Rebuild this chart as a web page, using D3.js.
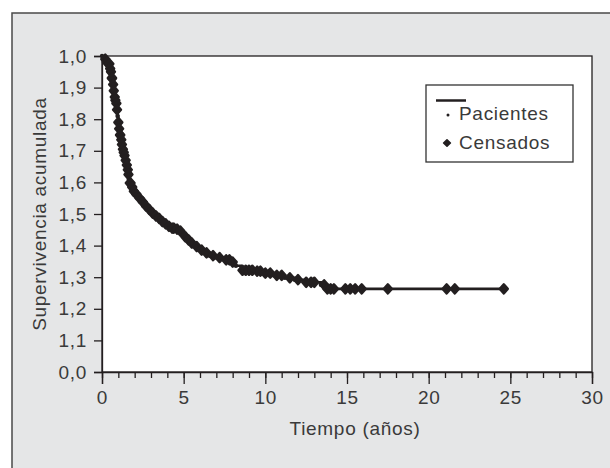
<!DOCTYPE html>
<html><head><meta charset="utf-8">
<script src="https://cdn.jsdelivr.net/npm/d3@7"></script>
<style>
html,body{margin:0;padding:0;background:#fff;}
svg{display:block;}
text{font-family:"Liberation Sans",Arial,sans-serif;font-weight:400;fill:#3a3a3a;letter-spacing:0.7px;}
</style></head>
<body>
<svg id="c" width="610" height="468"></svg>
<script>
// ---- data ----
const eventTimes = [0,0.1,0.2,0.3,0.4,0.5,0.55,0.6,0.65,0.7,0.75,0.8,0.85,0.9,0.95,1.0,1.05,1.1,1.15,1.2,1.25,1.3,1.35,1.4,1.5,1.55,1.6,1.65,1.7,1.8,1.9,2.0,2.2,2.4,2.6,2.8,3.0,3.2,3.4,3.6,3.8,4.0,4.2,4.5,4.7,4.9,5.0,5.2,5.4,5.7,6.0,6.3,6.6,7.0,7.5,7.9,8.2,8.5,9.3,9.8,10.5,11.2,11.8,12.4,13.4,13.7,24.7];
const survival  = [1.0,0.995,0.99,0.98,0.975,0.96,0.95,0.93,0.91,0.89,0.87,0.86,0.85,0.83,0.81,0.79,0.77,0.75,0.735,0.72,0.705,0.695,0.685,0.67,0.655,0.64,0.625,0.61,0.598,0.585,0.572,0.563,0.55,0.538,0.525,0.514,0.503,0.494,0.486,0.476,0.469,0.461,0.455,0.452,0.446,0.436,0.428,0.418,0.408,0.397,0.386,0.377,0.368,0.362,0.355,0.348,0.336,0.322,0.319,0.313,0.306,0.298,0.292,0.284,0.276,0.263,0.263];
const censoredTimes = [0.2,0.3,0.45,0.5,0.55,0.6,0.62,0.68,0.72,0.78,0.82,0.88,0.92,1.0,1.05,1.1,1.12,1.18,1.22,1.28,1.33,1.38,1.45,1.52,1.58,1.62,1.7,1.75,1.85,1.95,2.1,2.3,2.5,2.7,2.9,3.1,3.3,3.5,3.7,3.9,4.1,4.3,4.4,4.6,4.8,5.1,5.3,5.5,5.8,6.1,6.4,6.8,7.2,7.6,7.8,8.0,8.6,8.8,9.0,9.2,9.5,9.7,10.0,10.3,10.7,11.0,11.5,12.0,12.5,12.8,13.0,13.6,13.8,14.0,14.2,14.9,15.2,15.5,15.9,17.5,21.1,21.6,24.6];
const yTickValues = [0,0.1,0.2,0.3,0.4,0.5,0.6,0.7,0.8,0.9,1.0];
const yTickLabels = ["0,0","1,1","1,2","1,3","1,4","1,5","1,6","1,7","1,8","1,9","1,0"];
const xMajorTicks = [0,5,10,15,20,25,30];
const xMinorTicks = d3.range(0,31,1);
const legendItems = ["Pacientes","Censados"];
const xTitle = "Tiempo (años)";
const yTitle = "Supervivencia acumulada";

// ---- layout ----
const svg = d3.select("#c");
const P = {l:102, r:592, t:56, b:372};
const ink = "#231f20";

svg.append("rect").attr("x",12).attr("y",13).attr("width",640).attr("height",500)
  .attr("fill","#e5e6e7").attr("stroke","#4a4a4a").attr("stroke-width",1.5);

const x = d3.scaleLinear().domain([0,30]).range([P.l,P.r]);
const y = d3.scaleLinear().domain([0,1]).range([P.b,P.t]);

svg.append("rect").attr("x",P.l).attr("y",P.t).attr("width",P.r-P.l).attr("height",P.b-P.t)
  .attr("fill","#fff").attr("stroke",ink).attr("stroke-width",1.3);

// y axis
const ya = svg.append("g").attr("transform",`translate(${P.l},0)`)
  .call(d3.axisLeft(y).tickValues(yTickValues).tickSize(8).tickPadding(7)
    .tickFormat((d,i)=>yTickLabels[i]));
ya.select(".domain").attr("stroke",ink).attr("stroke-width",1.3);
ya.selectAll(".tick line").attr("stroke",ink).attr("stroke-width",1.3);
ya.selectAll("text").attr("font-family",null).style("font-size","19px").attr("fill","#3a3a3a");

// x axis minor
const xm = svg.append("g").attr("transform",`translate(0,${P.b})`)
  .call(d3.axisBottom(x).tickValues(xMinorTicks).tickSize(6).tickFormat(""));
xm.select(".domain").remove();
xm.selectAll(".tick line").attr("stroke",ink).attr("stroke-width",1.3);
// x axis major
const xa = svg.append("g").attr("transform",`translate(0,${P.b})`)
  .call(d3.axisBottom(x).tickValues(xMajorTicks).tickSize(12).tickPadding(7).tickFormat(d3.format("d")));
xa.select(".domain").attr("stroke",ink).attr("stroke-width",1.3);
xa.selectAll(".tick line").attr("stroke",ink).attr("stroke-width",1.3);
xa.selectAll("text").attr("font-family",null).style("font-size","19px").attr("fill","#3a3a3a");

// titles
svg.append("text").attr("x",355).attr("y",435).attr("text-anchor","middle")
  .style("font-size","19px").text(xTitle);
svg.append("text").attr("transform",`translate(46,${(P.t+P.b)/2}) rotate(-90)`)
  .attr("text-anchor","middle").style("font-size","19px").text(yTitle);

// curve
const pts = eventTimes.map((t,i)=>[t,survival[i]]);
svg.append("path").datum(pts)
  .attr("d", d3.line().x(d=>x(d[0])).y(d=>y(d[1])).curve(d3.curveStepAfter))
  .attr("fill","none").attr("stroke",ink).attr("stroke-width",2.6);

// patient dots
svg.append("g").selectAll("circle").data(pts.slice(0,-1)).join("circle")
  .attr("cx",d=>x(d[0])).attr("cy",d=>y(d[1])).attr("r",2.2).attr("fill",ink);

// censored markers
function S(t){ let s=survival[0]; for(let i=0;i<eventTimes.length;i++){ if(eventTimes[i]<=t) s=survival[i]; } return s; }
const marker = "M0,-4.6L4,0L0,4.6L-4,0Z";
svg.append("g").selectAll("path").data(censoredTimes).join("path")
  .attr("d",marker).attr("transform",d=>`translate(${x(d)},${y(S(d))})`)
  .attr("fill",ink).attr("stroke",ink).attr("stroke-width",2.4).attr("stroke-linejoin","round");

// legend
const lg = svg.append("g");
lg.append("rect").attr("x",426).attr("y",85).attr("width",147).attr("height",77)
  .attr("fill","#fff").attr("stroke","#333").attr("stroke-width",1.3);
lg.append("line").attr("x1",436).attr("x2",466).attr("y1",100.5).attr("y2",100.5)
  .attr("stroke",ink).attr("stroke-width",2.5);
lg.append("circle").attr("cx",448).attr("cy",115).attr("r",1.5).attr("fill",ink);
lg.append("path").attr("d","M0,-3.2L3.4,0L0,3.2L-3.4,0Z").attr("transform","translate(447,143)")
  .attr("fill",ink).attr("stroke",ink).attr("stroke-width",1.6).attr("stroke-linejoin","round");
lg.selectAll("text.li").data(legendItems).join("text").attr("class","li")
  .attr("x",459).attr("y",(d,i)=>120+i*29).style("font-size","19px").text(d=>d);
</script>
</body></html>
